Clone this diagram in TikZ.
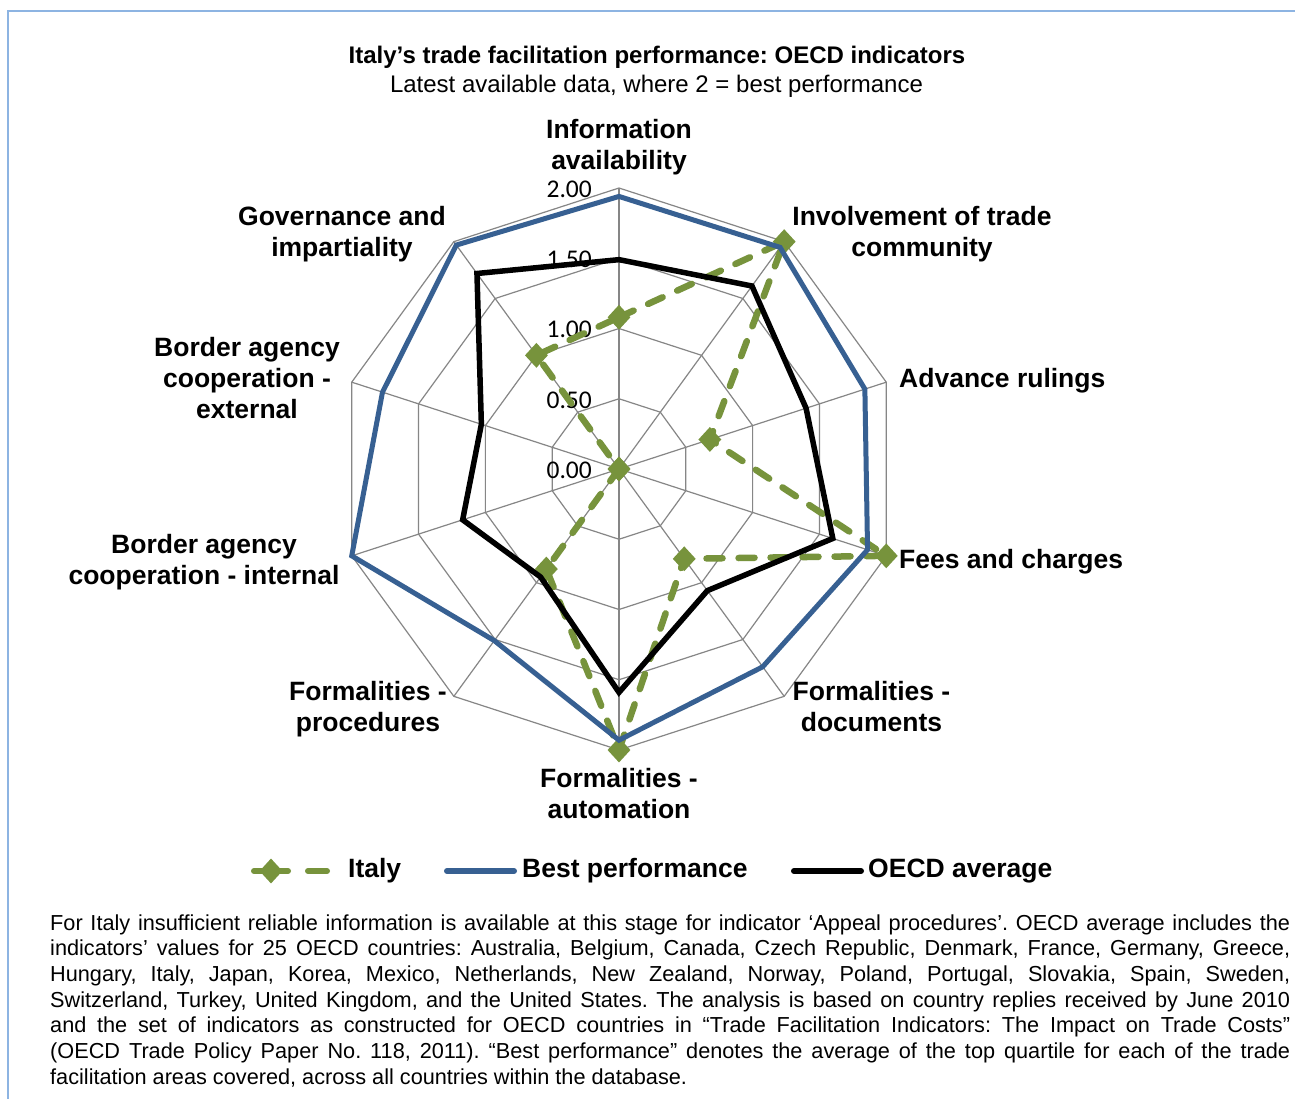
\documentclass[tikz,border=0pt]{standalone}
\usepackage{fontspec}
\setmainfont{Liberation Sans}
\newfontfamily\tickfont{Carlito}
\usetikzlibrary{shapes.geometric}
\definecolor{itgreen}{HTML}{77933C}
\definecolor{bestblue}{HTML}{376092}
\definecolor{gridgray}{HTML}{868686}
\definecolor{frameblue}{HTML}{8DB4E2}
\frenchspacing
\begin{document}
\begin{tikzpicture}[x=1pt,y=-1pt,
  gridline/.style={draw=gridgray, line width=1.2pt},
  axislabel/.style={font=\fontsize{26.5}{31}\selectfont\bfseries, align=center, inner sep=0pt},
  ticklabel/.style={font=\tickfont\fontsize{25.5}{30}\selectfont, anchor=east, inner sep=0pt},
  italyline/.style={draw=itgreen, line width=6.5pt, dash pattern=on 16pt off 16pt, line cap=round, line join=round},
  bestline/.style={draw=bestblue, line width=5pt, line join=miter},
  oecdline/.style={draw=black, line width=5.5pt, line join=miter},
  italymark/.style={diamond, fill=itgreen, minimum width=23pt, minimum height=25pt, inner sep=0pt},
  legline/.style={line width=6pt, line cap=round},
  legtext/.style={font=\fontsize{26.5}{31}\selectfont\bfseries, anchor=west, inner sep=0pt},
  notetext/.style={font=\fontsize{21.7}{25.7}\selectfont, anchor=base west, inner sep=0pt},
  titletext/.style={font=\fontsize{24}{28}\selectfont\bfseries, anchor=base, inner sep=0pt},
  subtext/.style={font=\fontsize{24}{28}\selectfont, anchor=base, inner sep=0pt}
]
\fill[white] (0,0) rectangle (1295,1099);
\useasboundingbox (0,0) rectangle (1295,1099);
% frame
\coordinate (fr1) at (8,1099);
\coordinate (fr2) at (8,11);
\coordinate (fr3) at (1295,11);
\draw[frameblue, line width=2pt] (fr1) -- (fr2) -- (fr3);

% titles
\node[titletext] (title) at (657,64) {Italy’s trade facilitation performance: OECD indicators};
\node[subtext] (subtitle) at (656.5,93) {Latest available data, where 2 = best performance};

% grid
\coordinate (ctr) at (619,469);
\begin{scope}[shift={(619,469)}]
  \foreach \k in {0,...,9} {
    \coordinate (s\k) at ({36*\k-90}:281);
    \draw[gridline] (ctr) -- (s\k);
  }
  \foreach \r in {70.25,140.5,210.75,281}
    \draw[gridline] (-90:\r) \foreach \k in {1,...,9}{ -- ({36*\k-90}:\r)} -- cycle;
  \foreach \k/\v in {0/1.94,1/1.95,2/1.84,3/1.86,4/1.74,5/1.93,6/1.51,7/2.0,8/1.77,9/1.97}
    \coordinate (b\k) at ({36*\k-90}:{\v*140.5});
  \foreach \k/\v in {0/1.49,1/1.61,2/1.40,3/1.60,4/1.07,5/1.59,6/0.95,7/1.17,8/1.03,9/1.72}
    \coordinate (o\k) at ({36*\k-90}:{\v*140.5});
  \foreach \k/\v in {0/1.08,1/2.0,2/0.68,3/2.0,4/0.79,5/2.0,6/0.88,7/0,8/0,9/1.0}
    \coordinate (i\k) at ({36*\k-90}:{\v*140.5});
\end{scope}

% tick labels
\node[ticklabel] (t0) at (592,470) {0.00};
\node[ticklabel] (t1) at (592,400) {0.50};
\node[ticklabel] (t2) at (592,329.5) {1.00};
\node[ticklabel] (t3) at (592,259) {1.50};
\node[ticklabel] (t4) at (592,189.5) {2.00};

% series
\draw[italyline] (i0) -- (i1) -- (i2) -- (i3) -- (i4) -- (i5) -- (i6) -- (i7) -- (i8) -- (i9) -- cycle;
\foreach \k in {0,...,9} \node[italymark] (m\k) at (i\k) {};
\draw[bestline] (b0) -- (b1) -- (b2) -- (b3) -- (b4) -- (b5) -- (b6) -- (b7) -- (b8) -- (b9) -- cycle;
\draw[oecdline] (o0) -- (o1) -- (o2) -- (o3) -- (o4) -- (o5) -- (o6) -- (o7) -- (o8) -- (o9) -- cycle;

% axis labels
\node[axislabel] (a0) at (619,147) {Information\\availability};
\node[axislabel] (a1) at (922,234) {Involvement of trade\\community};
\node[axislabel, anchor=base west] (a2) at (899,387.5) {Advance rulings};
\node[axislabel, anchor=base west] (a3) at (899,568) {Fees and charges};
\node[axislabel] (a4) at (871.5,706.5) {Formalities -\\documents};
\node[axislabel] (a5) at (619,793.5) {Formalities -\\automation};
\node[axislabel] (a6) at (368,709) {Formalities -\\procedures};
\node[axislabel] (a7) at (204,562) {Border agency\\cooperation - internal};
\node[axislabel] (a8) at (247,378) {Border agency\\cooperation -\\external};
\node[axislabel] (a9) at (342,234) {Governance and\\impartiality};

% legend
\coordinate (la1) at (254,871); \coordinate (la2) at (288,871);
\coordinate (la3) at (308,871); \coordinate (la4) at (327,871);
\draw[legline, itgreen] (la1) -- (la2);
\draw[legline, itgreen] (la3) -- (la4);
\node[italymark] (lm) at (271,871) {};
\node[legtext] (lt1) at (348,871) {Italy};
\coordinate (lb1) at (447,871); \coordinate (lb2) at (514,871);
\draw[legline, bestblue] (lb1) -- (lb2);
\node[legtext] (lt2) at (522,871) {Best performance};
\coordinate (lo1) at (794,871); \coordinate (lo2) at (861,871);
\draw[legline, black] (lo1) -- (lo2);
\node[legtext] (lt3) at (868,871) {OECD average};

% note
\node[notetext] (n1) at (50,930) {\makebox[1240pt][s]{For Italy insufficient reliable information is available at this stage for indicator ‘Appeal procedures’. OECD average includes the}};
\node[notetext] (n2) at (50,955.7) {\makebox[1240pt][s]{indicators’ values for 25 OECD countries: Australia, Belgium, Canada, Czech Republic, Denmark, France, Germany, Greece,}};
\node[notetext] (n3) at (50,981.4) {\makebox[1240pt][s]{Hungary, Italy, Japan, Korea, Mexico, Netherlands, New Zealand, Norway, Poland, Portugal, Slovakia, Spain, Sweden,}};
\node[notetext] (n4) at (50,1007.1) {\makebox[1240pt][s]{Switzerland, Turkey, United Kingdom, and the United States. The analysis is based on country replies received by June 2010}};
\node[notetext] (n5) at (50,1032.8) {\makebox[1240pt][s]{and the set of indicators as constructed for OECD countries in “Trade Facilitation Indicators: The Impact on Trade Costs”}};
\node[notetext] (n6) at (50,1058.5) {\makebox[1240pt][s]{(OECD Trade Policy Paper No. 118, 2011). “Best performance” denotes the average of the top quartile for each of the trade}};
\node[notetext] (n7) at (50,1084.2) {facilitation areas covered, across all countries within the database.};
\end{tikzpicture}
\end{document}
